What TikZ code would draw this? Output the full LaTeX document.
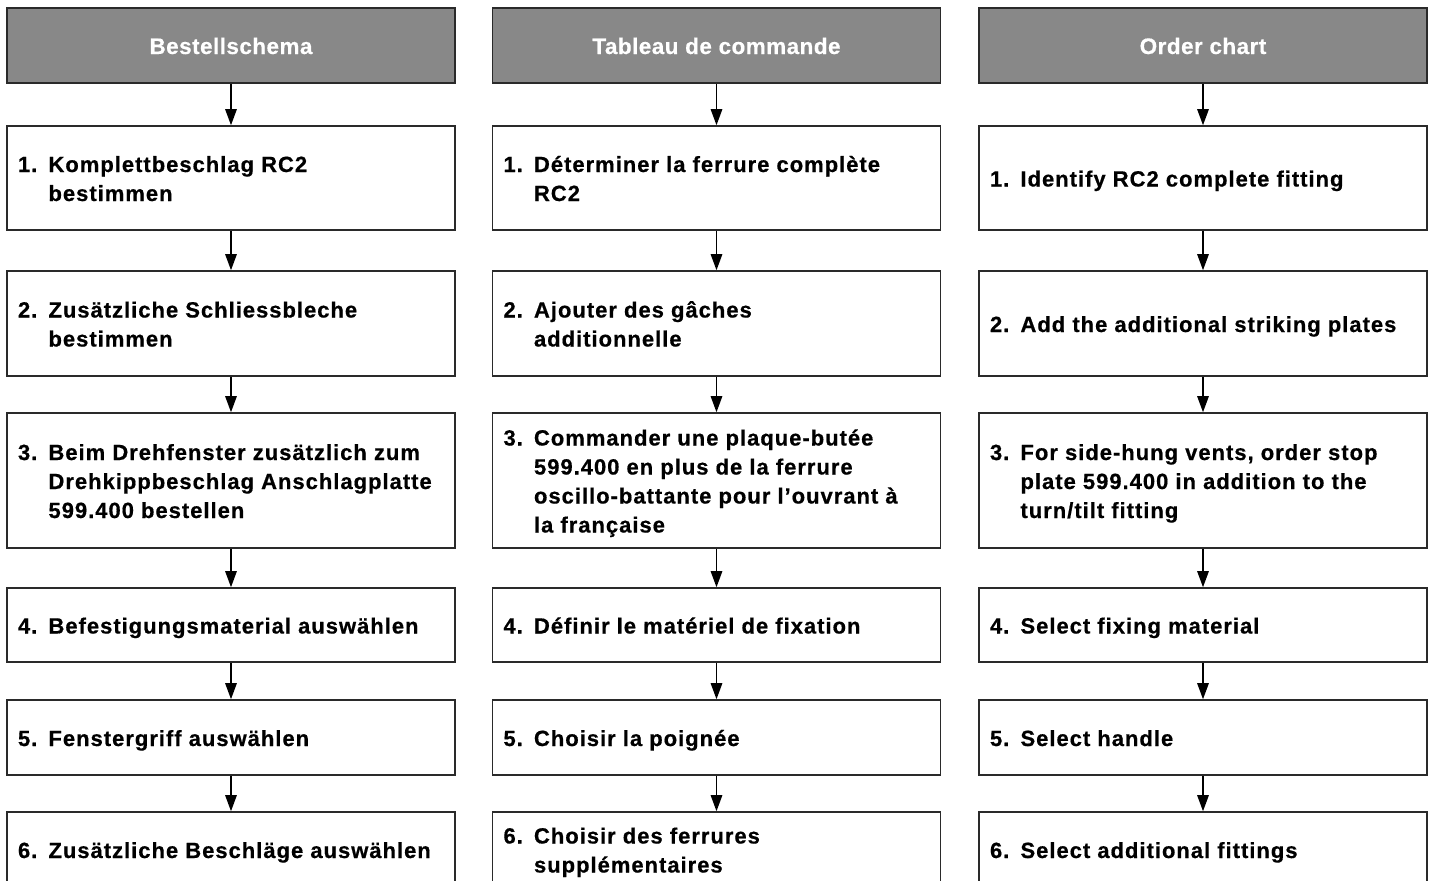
\documentclass[tikz,border=0pt]{standalone}
\usepackage{fontspec}
\usetikzlibrary{arrows.meta}
\newfontfamily\bodyfont{Liberation Sans}[LetterSpace=4.5,BoldFeatures={FakeBold=0.6}]
\newfontfamily\headfont{Liberation Sans}[LetterSpace=2,BoldFeatures={FakeBold=0.4}]
\definecolor{hgray}{HTML}{888888}
\definecolor{edge}{HTML}{2A2A2A}
\newcommand\stp[2]{\parbox{426pt}{\bodyfont\bfseries\fontsize{22}{29}\selectfont\raggedright\let\\\newline\hyphenpenalty=10000\hbadness=10000\hangindent=30.5pt\hangafter=1\rule{0pt}{22pt}\makebox[30.5pt][l]{#1}#2\rule[-5pt]{0pt}{5pt}\par}}
\newcommand\hdtext[1]{\rule[-5pt]{0pt}{27pt}#1}
\tikzset{
  box/.style={draw=edge, line width=1.6pt, minimum width=448pt, minimum height=#1, inner sep=0pt},
  hdr/.style={draw=edge, line width=1.6pt, fill=hgray, minimum width=448pt, minimum height=75pt, inner sep=0pt, text=white, font=\headfont\bfseries\fontsize{22.5}{27}\selectfont},
  conn/.style={-{Triangle[length=16pt,width=11.5pt]}, line width=1.3pt, draw=black}
}
\begin{document}
\begin{tikzpicture}[x=1pt,y=-1pt]
\useasboundingbox (0,0) rectangle (1433,881);
% column centres 231, 716.5, 1203
\node[hdr] (h1) at (231,45.5) {\hdtext{Bestellschema}};
\node[hdr] (h2) at (716.5,45.5) {\hdtext{Tableau de commande}};
\node[hdr] (h3) at (1203,45.5) {\hdtext{Order chart}};
% left column
\node[box=104pt] (a1) at (231,178) {\stp{1.}{Komplettbeschlag RC2\\bestimmen}};
\node[box=105pt] (a2) at (231,323.5) {\stp{2.}{Zusätzliche Schliessbleche\\bestimmen}};
\node[box=135pt] (a3) at (231,480.5) {\stp{3.}{Beim Drehfenster zusätzlich zum\\Drehkippbeschlag Anschlagplatte\\599.400 bestellen}};
\node[box=74pt] (a4) at (231,625) {\stp{4.}{Befestigungsmaterial auswählen}};
\node[box=75pt] (a5) at (231,737.5) {\stp{5.}{Fenstergriff auswählen}};
\node[box=75pt] (a6) at (231,849.5) {\stp{6.}{Zusätzliche Beschläge auswählen}};
% middle column
\node[box=104pt] (b1) at (716.5,178) {\stp{1.}{Déterminer la ferrure complète\\RC2}};
\node[box=105pt] (b2) at (716.5,323.5) {\stp{2.}{Ajouter des gâches\\additionnelle}};
\node[box=135pt] (b3) at (716.5,480.5) {\stp{3.}{Commander une plaque-butée\\599.400 en plus de la ferrure\\oscillo-battante pour l’ouvrant à\\la française}};
\node[box=74pt] (b4) at (716.5,625) {\stp{4.}{Définir le matériel de fixation}};
\node[box=75pt] (b5) at (716.5,737.5) {\stp{5.}{Choisir la poignée}};
\node[box=75pt] (b6) at (716.5,849.5) {\stp{6.}{Choisir des ferrures\\supplémentaires}};
% right column
\node[box=104pt] (c1) at (1203,178) {\stp{1.}{Identify RC2 complete fitting}};
\node[box=105pt] (c2) at (1203,323.5) {\stp{2.}{Add the additional striking plates}};
\node[box=135pt] (c3) at (1203,480.5) {\stp{3.}{For side-hung vents, order stop\\plate 599.400 in addition to the\\turn/tilt fitting}};
\node[box=74pt] (c4) at (1203,625) {\stp{4.}{Select fixing material}};
\node[box=75pt] (c5) at (1203,737.5) {\stp{5.}{Select handle}};
\node[box=75pt] (c6) at (1203,849.5) {\stp{6.}{Select additional fittings}};
% connectors
\foreach \c/\h in {a/h1,b/h2,c/h3}{
  \draw[conn] (\h.south) -- (\c1.north);
  \draw[conn] (\c1.south) -- (\c2.north);
  \draw[conn] (\c2.south) -- (\c3.north);
  \draw[conn] (\c3.south) -- (\c4.north);
  \draw[conn] (\c4.south) -- (\c5.north);
  \draw[conn] (\c5.south) -- (\c6.north);
}
\end{tikzpicture}
\end{document}
